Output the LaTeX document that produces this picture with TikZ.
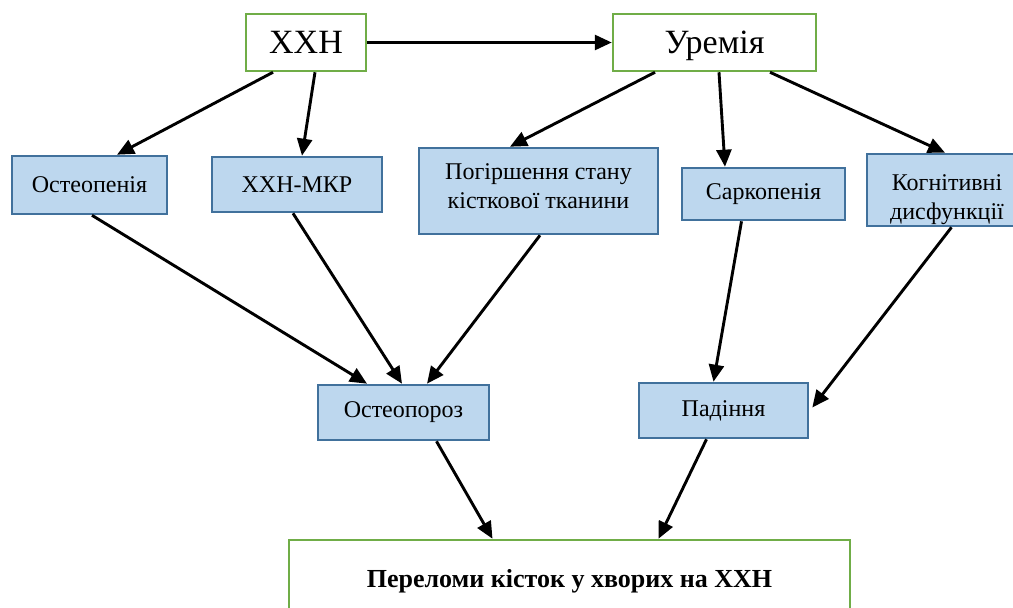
\documentclass[tikz,border=0pt]{standalone}
\usepackage{fontspec}
\setmainfont{Liberation Serif}
\usetikzlibrary{positioning,arrows.meta,calc}
\definecolor{boxgreen}{HTML}{70AD47}
\definecolor{boxfill}{HTML}{BDD7EE}
\definecolor{boxline}{HTML}{41719C}

\begin{document}
\begin{tikzpicture}[x=1pt,y=-1pt,
    topbox/.style={draw=boxgreen, line width=2.5pt, fill=white, inner sep=0pt,
      text depth=0pt, font=\fontsize{34}{38}\selectfont},
    factor/.style={draw=boxline, line width=2.6pt, fill=boxfill, inner sep=0pt,
      align=center, font=\fontsize{24}{29}\selectfont},
    link/.style={-{Triangle[length=17pt,width=15pt]}, line width=2.9pt}]
  \useasboundingbox (0,0) rectangle (1013,608);
  \clip (0,0) rectangle (1013,608);
  % causes
  \node[topbox, minimum width=120pt, minimum height=57pt] (xxh) at (306,42.5) {ХХН};
  \node[topbox, minimum width=203pt, minimum height=57pt] (uremia) at (714.5,42.5) {Уремія};
  % intermediate factors
  \node[factor, minimum width=155pt, minimum height=58pt] (openia) at (89.5,185) {Остеопенія};
  \node[factor, minimum width=170pt, minimum height=55pt] (mkr) at (297,184.5) {ХХН-МКР};
  \node[factor, minimum width=239pt, minimum height=86pt] (bone) at (538.5,191)
    {Погіршення стану\\кісткової тканини\rule[-10pt]{0pt}{10pt}};
  \node[factor, minimum width=163pt, minimum height=52pt] (sarc) at (763.5,194) {Саркопенія};
  \node[factor, minimum width=160pt, minimum height=72pt] (cogn) at (947,190)
    {\rule{0pt}{36pt}Когнітивні\\дисфункції};
  \node[factor, minimum width=171pt, minimum height=55pt] (porosis) at (403.5,412.5) {Остеопороз};
  \node[factor, minimum width=169pt, minimum height=55pt] (fall) at (723.5,410.5) {Падіння};
  % outcome
  \node[topbox, minimum width=561pt, minimum height=82pt, text depth=5pt,
    font=\fontsize{26}{30}\selectfont\bfseries]
    (frac) at (569.5,581) {Переломи кісток у хворих на ХХН};

  \draw[link] (xxh.east) -- (uremia.west);
  \draw[link] ([xshift=-33pt]xxh.south) -- ([xshift=27.5pt]openia.north);
  \draw[link] ([xshift=9pt]xxh.south) -- ([xshift=5pt]mkr.north);
  \draw[link] ([xshift=-59.5pt]uremia.south) -- ([xshift=-28.5pt]bone.north);
  \draw[link] ([xshift=4.5pt]uremia.south) -- ([xshift=-38.5pt]sarc.north);
  \draw[link] ([xshift=55.5pt]uremia.south) -- ([xshift=-2pt]cogn.north);
  \draw[link] ([xshift=2.5pt]openia.south) -- ([xshift=-36.5pt]porosis.north);
  \draw[link] ([xshift=-4pt]mkr.south) -- ([xshift=-1.5pt]porosis.north);
  \draw[link] ([xshift=1.5pt]bone.south) -- ([xshift=23.5pt]porosis.north);
  \draw[link] ([xshift=-22pt]sarc.south) -- ([xshift=-10pt]fall.north);
  \draw[link] ([xshift=4.5pt]cogn.south) -- ([xshift=3pt,yshift=3pt]fall.east);
  \draw[link] ([xshift=33pt]porosis.south) -- ([xshift=-77pt]frac.north);
  \draw[link] ([xshift=-17pt]fall.south) -- ([xshift=89pt]frac.north);
\end{tikzpicture}
\end{document}
